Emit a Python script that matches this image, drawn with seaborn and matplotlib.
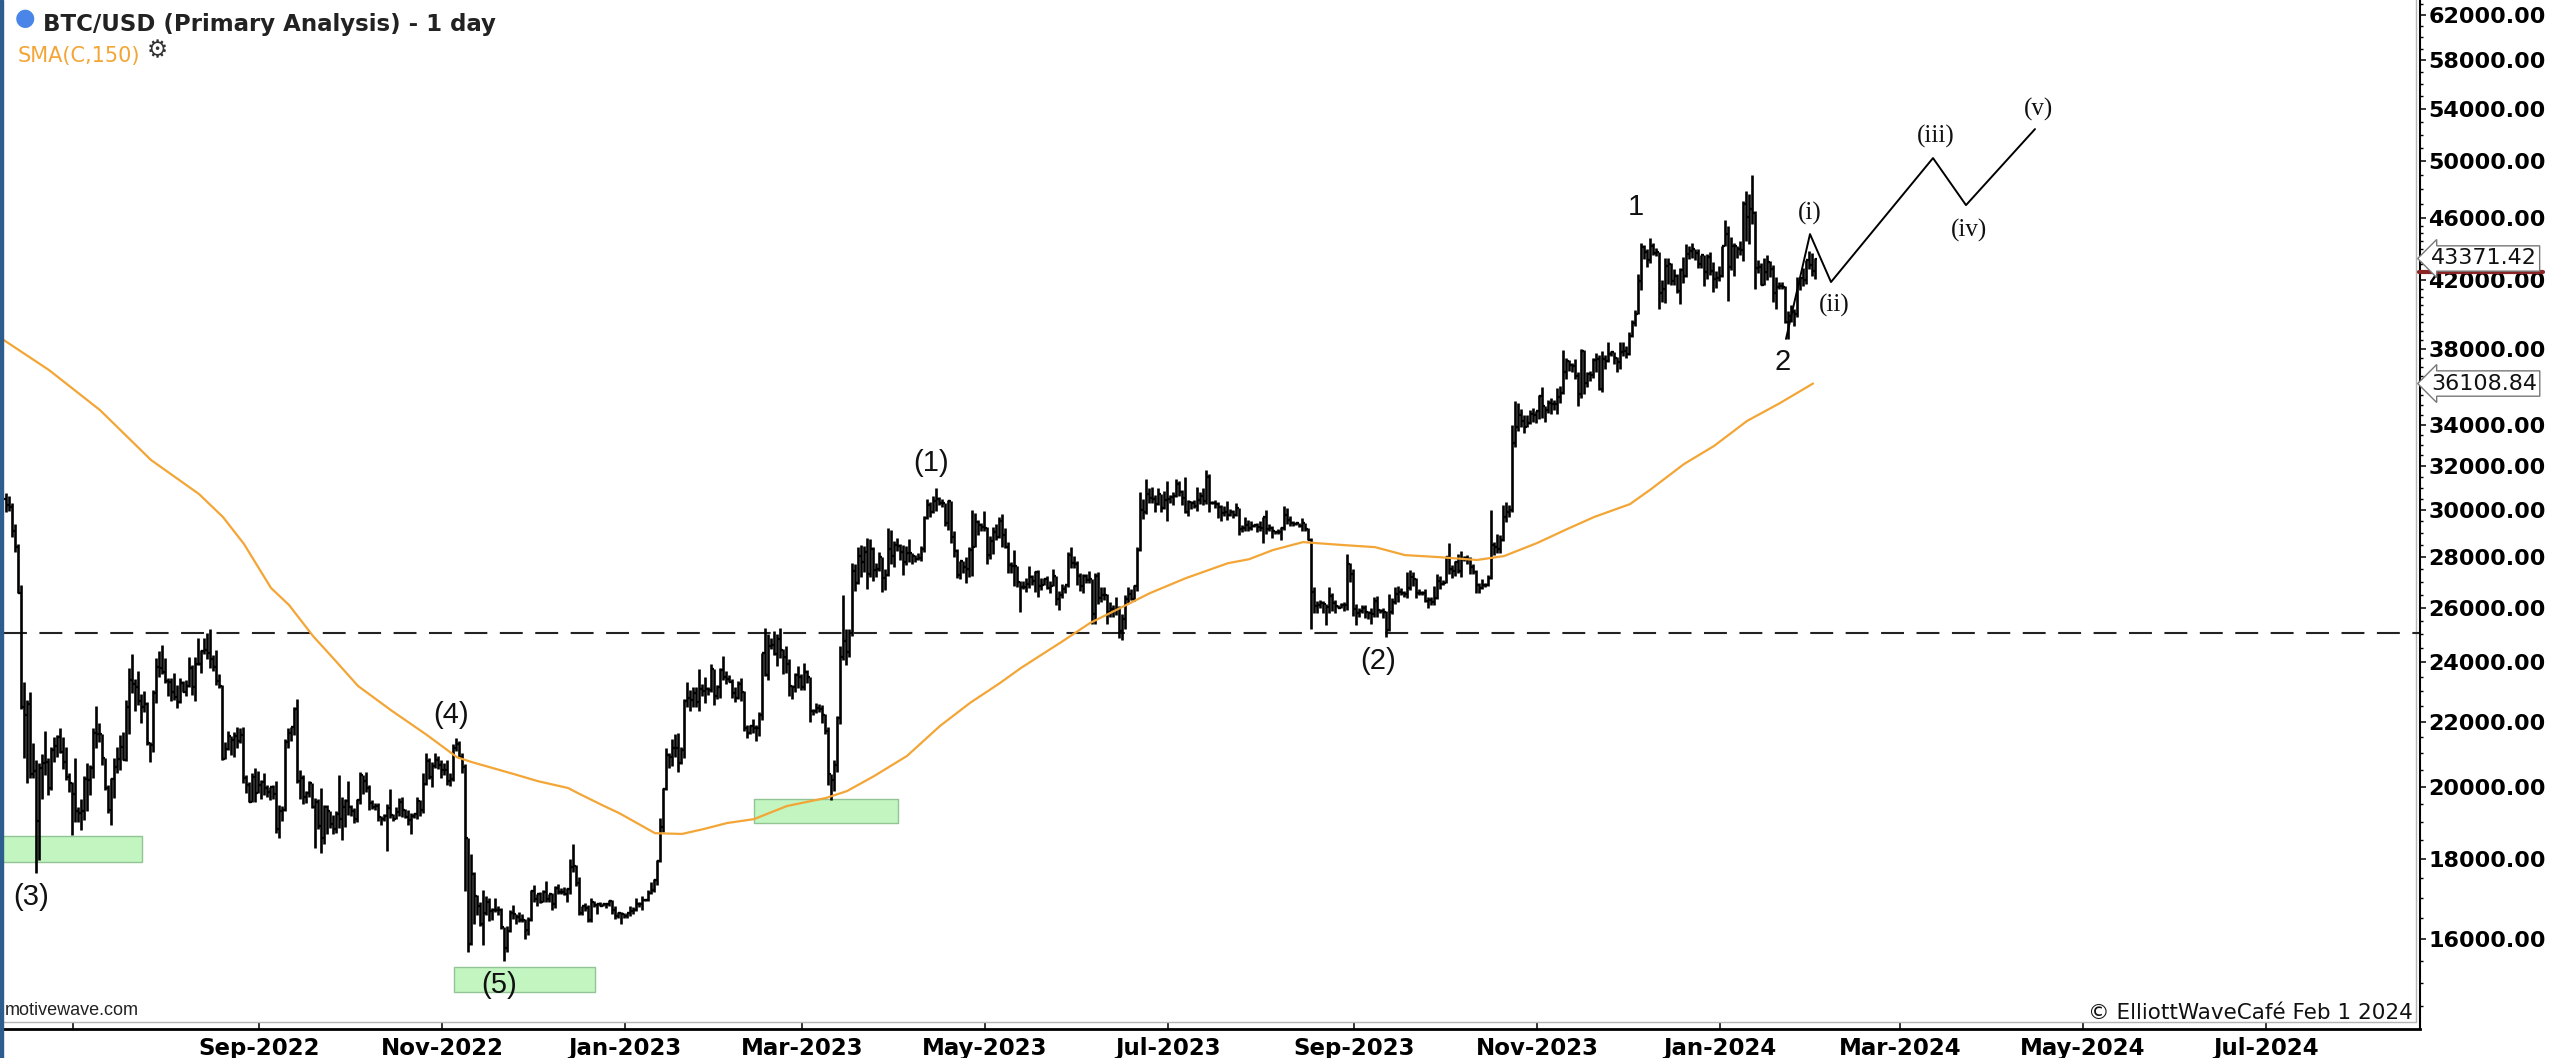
"""BTC/USD daily bars with SMA(150), Elliott wave count and projected path."""
import matplotlib

matplotlib.use("Agg")
import matplotlib.dates as mdates
import matplotlib.pyplot as plt
import matplotlib.ticker as mticker
import numpy as np
import pandas as pd
import seaborn as sns
from matplotlib.patches import Rectangle
from matplotlib.transforms import ScaledTranslation

# daily bars from 2022-06-08 to 2024-02-01, open = previous close
first_day = "2022-06-08"
first_open = 30500

high = [
    # 2022-06 (8th..)
    30750, 30600, 30300, 29400, 28530, 26880, 23300, 22700, 22970, 21330, 20800, 20700, 20980, 21700, 20860, 21200, 21500, 21580, 21800, 21500, 21200, 20400, 20140,
    # 2022-07
    20870, 19400, 19650, 20300, 20700, 20630, 21800, 22500, 21950, 21600, 20860, 20050, 20250, 20850, 21200, 21580, 21680, 22700, 23800, 24280, 23420, 23700, 22900, 23000, 22650, 21350, 23050, 24150, 24400, 24620, 24150,
    # 2022-08
    23450, 23450, 23630, 23200, 23450, 23350, 23380, 24200, 23920, 24200, 24880, 24450, 24880, 25050, 25200, 24250, 24450, 23600, 23200, 21350, 21700, 21540, 21660, 21820, 21800, 21830, 20350, 20140, 20400, 20540, 20450,
    # 2022-09
    20200, 20400, 20050, 20000, 20050, 20160, 19460, 19450, 21450, 21800, 21800, 22480, 22750, 20500, 20330, 19870, 20170, 20100, 19680, 19630, 19950, 19480, 19480, 19300, 19180, 19300, 20340, 19700, 19630, 20160,
    # 2022-10
    19480, 19390, 19650, 20420, 20350, 20430, 20040, 19610, 19520, 19520, 19170, 19200, 19500, 19920, 19220, 19400, 19660, 19690, 19350, 19340, 19250, 19250, 19690, 19600, 20400, 21000, 20860, 20750, 21000, 20920, 20800,
    # 2022-11
    20700, 20800, 20400, 21300, 21480, 21370, 21000, 20660, 18560, 18120, 17650, 17070, 16890, 17180, 17050, 16990, 16750, 16990, 16800, 16750, 16290, 16300, 16700, 16810, 16600, 16650, 16600, 16480, 16520, 17200,
    # 2022-12
    17320, 17100, 17150, 17200, 17420, 17100, 17120, 17300, 17350, 17230, 17260, 17230, 18000, 18380, 17840, 17530, 16800, 16860, 16810, 17000, 16910, 16860, 16880, 16870, 16860, 16940, 16940, 16790, 16650, 16650, 16630,
    # 2023-01
    16630, 16780, 16770, 16990, 16880, 17040, 16970, 17180, 17400, 17480, 17950, 19100, 19950, 21150, 21000, 21440, 21600, 21650, 21190, 22750, 23300, 23050, 23160, 23140, 23780, 23250, 23470, 23160, 23930, 23780, 23220,
    # 2023-02
    23800, 24230, 23690, 23570, 23420, 23150, 23350, 23440, 23000, 21900, 21880, 22080, 21880, 22300, 24340, 25250, 25020, 24870, 25120, 25020, 25250, 24480, 24590, 24130, 23220, 23640, 23860, 23590,
    # 2023-03
    23960, 23740, 23480, 22400, 22600, 22590, 22540, 22260, 21820, 20360, 20800, 22170, 24580, 26500, 25200, 25200, 27750, 27700, 28400, 28500, 28450, 28800, 28750, 28400, 27770, 28200, 28000, 27500, 29200, 29150, 28650,
    # 2023-04
    28800, 28540, 28500, 28450, 28740, 28180, 28100, 28150, 28450, 29750, 30500, 30350, 30600, 31000, 30580, 30500, 30300, 30460, 30380, 29100, 28350, 27850, 27820, 28000, 28400, 30000, 29880, 29570, 29450, 29950,
    # 2023-05
    29250, 28880, 29260, 29370, 29700, 29820, 29200, 28630, 27800, 28300, 27620, 27050, 27030, 27150, 27640, 27260, 27450, 27480, 27150, 27150, 27250, 27050, 27500, 27230, 26630, 26930, 26880, 28200, 28430, 28050, 27840,
    # 2023-06
    27350, 27300, 27320, 27450, 27130, 27350, 27400, 26800, 26780, 26530, 26200, 26100, 26400, 26070, 25750, 26470, 26800, 26700, 26880, 28400, 30800, 30500, 31400, 31000, 31050, 30650, 31000, 30700, 30840, 31280,
    # 2023-07
    30650, 30780, 31380, 31320, 30880, 31500, 30440, 30380, 30440, 31030, 30800, 30980, 31800, 31630, 30400, 30440, 30340, 30230, 30190, 30400, 30050, 29990, 30330, 30100, 29350, 29680, 29560, 29530, 29410, 29450, 29530,
    # 2023-08
    29700, 30000, 29400, 29310, 29100, 29170, 29250, 30180, 30100, 29720, 29540, 29470, 29450, 29650, 29450, 29230, 28780, 26800, 26250, 26280, 26250, 26130, 26800, 26550, 26280, 26100, 26160, 26200, 28130, 27750, 27500,
    # 2023-09
    26120, 25980, 26100, 26100, 25880, 26000, 26400, 26430, 25940, 25970, 25880, 26530, 26380, 26800, 26850, 26770, 26630, 27400, 27470, 27380, 27150, 26730, 26630, 26730, 26420, 26390, 26820, 27300, 27230, 27090,
    # 2023-10
    28050, 28580, 27670, 27830, 28120, 28250, 28030, 28100, 27990, 27730, 27480, 26950, 27100, 26960, 27290, 30000, 28620, 28980, 28900, 30200, 30350, 30200, 34000, 35200, 35100, 34800, 34480, 34470, 34750, 34850, 34700,
    # 2023-11
    35500, 35950, 34950, 35250, 35370, 35250, 35880, 35980, 37950, 37500, 37380, 37220, 37420, 36750, 37980, 37950, 36700, 36800, 37500, 37750, 37650, 37850, 37650, 38400, 37900, 37830, 37550, 38380, 38400, 38150,
    # 2023-12
    38950, 39650, 40200, 42400, 44400, 44270, 44000, 44700, 44350, 44050, 43800, 42050, 43400, 43400, 43100, 42700, 42400, 42750, 43480, 44280, 44200, 44380, 44000, 43950, 43600, 43600, 43680, 43800, 43130, 42600, 42900,
    # 2024-01 and 02-01
    44180, 45900, 45500, 44780, 44350, 44200, 44500, 47200, 47900, 47700, 49050, 46500, 43250, 43080, 43400, 43580, 43200, 42930, 42200, 41880, 41880, 41650, 40150, 40500, 40280, 42200, 42200, 42800, 43300, 43850, 43750,
    43400,
]

low = [
    # 2022-06 (8th..)
    29900, 29950, 28850, 28200, 26550, 22400, 20850, 20100, 20250, 20240, 17620, 17960, 19650, 20350, 19770, 19900, 20750, 20900, 21000, 20520, 20200, 19850, 18630,
    # 2022-07
    19000, 19000, 18780, 19050, 19300, 19770, 20250, 21180, 21350, 20650, 19900, 19250, 18900, 19660, 20400, 20480, 20800, 20770, 21600, 22950, 22350, 22550, 21950, 22300, 21250, 20730, 21040, 22600, 23500, 23600, 23280,
    # 2022-08
    22850, 22660, 22700, 22450, 22600, 22960, 22850, 23150, 22880, 22680, 23900, 23620, 24300, 24100, 23800, 23700, 23200, 23100, 20800, 20830, 21100, 20950, 20900, 21150, 21310, 20100, 19800, 19550, 19550, 19550, 19800,
    # 2022-09
    19650, 19760, 19700, 19600, 19640, 18680, 18540, 19020, 19300, 21150, 21380, 21560, 20100, 19640, 19500, 19520, 19700, 19370, 18270, 18800, 18150, 18390, 18650, 18830, 18650, 18680, 18830, 18500, 18860, 19190,
    # 2022-10
    19160, 18970, 19000, 19510, 19780, 19850, 19320, 19360, 19320, 19030, 18900, 19010, 18190, 19100, 19020, 19070, 19150, 19120, 19100, 18900, 18660, 19110, 19080, 19170, 19240, 20060, 20210, 20000, 20550, 20510, 20250,
    # 2022-11
    20350, 20050, 20030, 20180, 21070, 20860, 20400, 17170, 15700, 15850, 16360, 16570, 16300, 15860, 16560, 16430, 16460, 16640, 16580, 16230, 15480, 15700, 16170, 16480, 16350, 16400, 16400, 16000, 16100, 16420,
    # 2022-12
    16880, 16790, 16870, 16880, 16880, 16900, 16690, 16750, 17090, 17090, 17070, 16880, 17080, 17660, 17280, 16580, 16580, 16660, 16400, 16400, 16760, 16600, 16780, 16780, 16740, 16790, 16600, 16470, 16500, 16350, 16500,
    # 2023-01
    16500, 16550, 16600, 16660, 16760, 16680, 16910, 16910, 17100, 17150, 17320, 17900, 18720, 19900, 20550, 20620, 20900, 20420, 20670, 20870, 22480, 22350, 22480, 22480, 22350, 22850, 22600, 22890, 22980, 22540, 22740,
    # 2023-02
    22780, 23400, 23240, 23350, 22780, 22650, 22740, 22680, 21700, 21480, 21600, 21620, 21390, 21550, 22060, 23530, 23390, 24480, 24250, 23880, 24150, 23600, 23620, 22850, 22750, 22960, 23110, 23030,
    # 2023-03
    23030, 23280, 22000, 22200, 22270, 22320, 21950, 21590, 20060, 19600, 19870, 20420, 21920, 24080, 23900, 24200, 24930, 26650, 26900, 27200, 27400, 26700, 27200, 27030, 27200, 27420, 26620, 26680, 27230, 27730, 27580,
    # 2023-04
    28250, 27870, 27270, 27680, 27800, 27720, 27790, 27870, 27820, 28200, 29600, 29700, 29880, 29950, 30230, 30150, 29300, 29150, 28600, 28010, 27150, 27130, 27350, 26970, 27200, 27250, 28400, 28900, 29100, 29100,
    # 2023-05
    27700, 27900, 28130, 28700, 28800, 28400, 28380, 27350, 27350, 26850, 26780, 25850, 26700, 26600, 26760, 26860, 26600, 26420, 26680, 26860, 26700, 26550, 26850, 26100, 25900, 26350, 26560, 26810, 27570, 27570, 26860,
    # 2023-06
    26630, 26550, 26950, 26960, 25400, 25400, 26130, 26220, 26300, 25400, 25650, 25650, 25730, 24850, 24800, 25200, 26180, 26290, 26260, 26650, 28270, 29600, 29820, 30290, 30310, 29930, 30220, 29900, 30050, 29500,
    # 2023-07
    30330, 30200, 30590, 30640, 30200, 29880, 29720, 30040, 30080, 29950, 30270, 30200, 30250, 29900, 30250, 30080, 29670, 29520, 29750, 29580, 29730, 29640, 29720, 28900, 29050, 29100, 29100, 29120, 29250, 29050, 29100,
    # 2023-08
    28600, 28950, 29100, 28800, 28950, 28980, 28700, 29120, 29400, 29320, 29300, 29360, 29250, 29070, 29070, 28700, 25200, 25800, 25780, 26000, 25800, 25350, 25800, 25860, 25790, 25980, 25990, 25880, 25920, 27000, 25700,
    # 2023-09
    25360, 25650, 25800, 25600, 25570, 25380, 25630, 25650, 25800, 25600, 24900, 25140, 25770, 26130, 26200, 26480, 26410, 26380, 26670, 26850, 26380, 26480, 26500, 26200, 26000, 26100, 26110, 26340, 26720, 26870,
    # 2023-10
    26960, 27330, 27170, 27220, 27370, 27200, 27840, 27700, 27300, 27330, 26550, 26560, 26700, 26800, 26840, 27120, 28070, 28170, 28180, 28650, 29470, 29680, 29900, 32900, 33700, 33900, 33570, 33880, 34050, 34120, 34090,
    # 2023-11
    34300, 34350, 34120, 34600, 34550, 34750, 34550, 35100, 35550, 36350, 36780, 36740, 36350, 34950, 35360, 35580, 35900, 36220, 36400, 36720, 35750, 35650, 36900, 37250, 37600, 37160, 36750, 36900, 37600, 37500,
    # 2023-12
    37640, 38650, 39300, 39980, 41400, 43350, 42850, 43100, 43600, 43550, 40250, 40680, 40650, 41800, 41700, 41700, 41250, 40550, 41820, 42200, 43320, 43400, 43300, 42800, 42750, 41650, 42100, 42330, 41300, 41550, 41970,
    # 2024-01 and 02-01
    42200, 44150, 40750, 42650, 42300, 43400, 43600, 43200, 44500, 44300, 45600, 41500, 42450, 41720, 41720, 42050, 42200, 40680, 40280, 41500, 41500, 39450, 38550, 39500, 39280, 39800, 41400, 41650, 41800, 42700, 42300,
    42100,
]

close = [
    # 2022-06 (8th..)
    30200, 30110, 29080, 28420, 26580, 22490, 22200, 22580, 20380, 20470, 19020, 20550, 20700, 20720, 19970, 21090, 21230, 21500, 21040, 20730, 20280, 20100, 19780,
    # 2022-07
    19300, 19240, 19300, 20230, 20190, 20550, 21630, 21590, 21590, 20860, 19970, 19330, 20210, 20580, 20830, 21190, 20790, 22480, 23390, 23240, 23160, 22680, 22470, 22580, 21310, 21250, 22930, 23840, 23800, 23650, 23340,
    # 2022-08
    23310, 22980, 22820, 22630, 23290, 22960, 23180, 23810, 23160, 23950, 23950, 24400, 24440, 24310, 24100, 23850, 23340, 23190, 20830, 21140, 21530, 21400, 21530, 21370, 21560, 20250, 20040, 19560, 20280, 19810, 20050,
    # 2022-09
    20130, 19950, 19830, 19990, 19790, 18790, 19290, 19320, 21360, 21650, 21830, 22400, 20170, 20240, 19700, 19800, 20110, 19420, 19540, 18890, 18550, 19400, 19300, 18930, 18800, 19220, 19080, 19410, 19590, 19420,
    # 2022-10
    19310, 19060, 19620, 20340, 20160, 19960, 19530, 19420, 19440, 19130, 19060, 19160, 19380, 19190, 19070, 19260, 19550, 19330, 19140, 19050, 19170, 19210, 19570, 19330, 20090, 20770, 20290, 20600, 20810, 20630, 20490,
    # 2022-11
    20480, 20160, 20210, 21150, 21300, 20900, 20590, 18550, 15880, 17590, 17040, 16800, 16350, 16620, 16900, 16660, 16690, 16700, 16700, 16280, 15780, 16190, 16610, 16600, 16520, 16460, 16440, 16220, 16440, 17170,
    # 2022-12
    16970, 17090, 16900, 17130, 16970, 17090, 16840, 17230, 17130, 17130, 17090, 17210, 17780, 17810, 17360, 16630, 16780, 16740, 16440, 16900, 16820, 16830, 16780, 16840, 16830, 16920, 16700, 16550, 16630, 16600, 16540,
    # 2023-01
    16620, 16670, 16680, 16850, 16830, 16950, 16940, 17120, 17180, 17440, 17940, 18850, 19930, 20950, 20880, 21170, 21160, 20690, 21090, 22680, 22780, 22720, 22930, 22630, 23060, 23020, 23080, 23030, 23750, 22840, 23130,
    # 2023-02
    23730, 23490, 23430, 23330, 22930, 22760, 23260, 22960, 21800, 21630, 21860, 21790, 21780, 22200, 24330, 23540, 24570, 24630, 24300, 24840, 24440, 24190, 23950, 23190, 23160, 23550, 23490, 23150,
    # 2023-03
    23650, 23470, 22360, 22350, 22430, 22410, 22200, 21700, 20360, 20190, 20630, 22130, 24200, 24750, 24380, 25050, 27420, 26960, 28050, 27780, 28190, 27300, 28350, 27480, 27500, 27990, 27140, 27270, 28350, 28030, 28480,
    # 2023-04
    28470, 28200, 27800, 28170, 28170, 28030, 27920, 27950, 28330, 29650, 30240, 29890, 30400, 30480, 30320, 30320, 29430, 30390, 28820, 28250, 27270, 27820, 27600, 27510, 28310, 28420, 29470, 29340, 29250, 29230,
    # 2023-05
    28080, 28680, 29030, 28850, 29540, 28900, 28430, 27690, 27630, 27620, 26990, 26800, 26780, 26930, 27190, 27040, 27400, 26830, 26890, 27120, 26750, 26850, 27230, 26330, 26480, 26720, 26870, 28080, 27750, 27700, 27220,
    # 2023-06
    26820, 27250, 27070, 27120, 25760, 27240, 26350, 26500, 26480, 25850, 25940, 25900, 25930, 25130, 25580, 26340, 26510, 26340, 26840, 28310, 30010, 29900, 30690, 30550, 30470, 30270, 30690, 30080, 30450, 30470,
    # 2023-07
    30590, 30620, 31160, 30780, 30510, 29890, 30350, 30290, 30170, 30420, 30620, 30390, 31480, 30330, 30300, 30250, 30150, 29860, 29920, 29800, 29910, 29800, 30090, 29180, 29230, 29350, 29220, 29320, 29360, 29280, 29230,
    # 2023-08
    29700, 29180, 29200, 29080, 29050, 29060, 29200, 29770, 29580, 29440, 29400, 29420, 29300, 29420, 29170, 28710, 26620, 26050, 26100, 26190, 26120, 26040, 26430, 26160, 26050, 26000, 26090, 26100, 27720, 27300, 25930,
    # 2023-09
    25800, 25870, 25970, 25820, 25780, 25750, 26240, 25910, 25890, 25830, 25160, 25840, 26230, 26530, 26610, 26570, 26530, 26760, 27210, 27130, 26570, 26580, 26580, 26250, 26300, 26220, 26360, 27030, 26900, 26970,
    # 2023-10
    27990, 27500, 27430, 27790, 27420, 27930, 27960, 27930, 27600, 27390, 26870, 26760, 26860, 26860, 27160, 28520, 28420, 28330, 28720, 29690, 29920, 29990, 33080, 33900, 34500, 34160, 33900, 34090, 34530, 34500, 34670,
    # 2023-11
    35440, 34940, 34730, 35080, 35050, 35040, 35420, 35620, 36700, 37310, 37130, 37060, 36490, 35550, 37880, 36160, 36600, 36580, 37360, 37450, 35800, 37440, 37300, 37720, 37800, 37480, 37250, 37830, 37860, 37720,
    # 2023-12
    38690, 39460, 39970, 41980, 44080, 43770, 43290, 44170, 43720, 43790, 41240, 41450, 42890, 43020, 41940, 42260, 41360, 42650, 42270, 43660, 43870, 43980, 43720, 43010, 43580, 42520, 43440, 42580, 42070, 42140, 42280,
    # 2024-01 and 02-01
    44180, 44950, 42850, 44180, 44160, 43970, 43930, 46970, 46100, 46650, 46340, 42780, 42840, 41730, 42500, 43150, 42740, 41260, 41620, 41660, 41580, 39510, 39850, 40080, 39960, 41800, 42120, 42030, 43300, 42950, 42580,
    43371,
]

# SMA(C,150)
sma_dates = [
    "2022-06-06", "2022-06-23", "2022-07-10", "2022-07-27", "2022-08-12", "2022-08-20", "2022-08-27",
    "2022-09-05", "2022-09-11", "2022-09-19", "2022-09-26", "2022-10-04", "2022-10-15", "2022-10-27",
    "2022-11-06", "2022-11-11", "2022-11-18", "2022-11-25", "2022-12-03", "2022-12-13", "2022-12-17",
    "2022-12-25", "2022-12-30", "2023-01-05", "2023-01-11", "2023-01-20", "2023-01-27", "2023-02-04",
    "2023-02-13", "2023-02-24", "2023-03-09", "2023-03-16", "2023-03-25", "2023-04-05", "2023-04-16",
    "2023-04-26", "2023-05-06", "2023-05-13", "2023-05-27", "2023-06-05", "2023-06-15", "2023-06-25",
    "2023-07-07", "2023-07-21", "2023-07-28", "2023-08-05", "2023-08-15", "2023-08-28", "2023-09-08",
    "2023-09-18", "2023-09-29", "2023-10-12", "2023-10-21", "2023-11-01", "2023-11-11", "2023-11-20",
    "2023-12-02", "2023-12-09", "2023-12-20", "2023-12-30", "2024-01-10", "2024-01-21", "2024-02-01",
]
sma_values = [
    38700, 36830, 34730, 32280, 30710, 29690, 28540,
    26760, 26100, 24940, 24110, 23180, 22370, 21570,
    20880, 20730, 20550, 20370, 20160, 19960, 19780,
    19440, 19240, 18960, 18680, 18660, 18790, 18960,
    19070, 19440, 19670, 19870, 20310, 20920, 21860,
    22610, 23280, 23800, 24760, 25420, 25980, 26560,
    27150, 27750, 27910, 28290, 28620, 28500, 28410,
    28080, 28000, 27880, 28040, 28580, 29170, 29690,
    30260, 30930, 32090, 32950, 34180, 35090, 36108.84,
]

# projected wave path: 2 -> (i) -> (ii) -> (iii) -> (iv) -> (v)
path_dates = ["2024-01-23", "2024-01-31", "2024-02-07", "2024-03-12", "2024-03-23", "2024-04-15"]
path_prices = [38550, 44950, 41900, 50250, 46900, 52430]

support_level = 25050

zone_start = ["2022-06-01", "2022-11-05", "2023-02-13"]
zone_end = ["2022-07-24", "2022-12-22", "2023-04-02"]
zone_low = [17900, 14800, 18965]
zone_high = [18600, 15350, 19640]

wave_labels = ["(3)", "(4)", "(5)", "(1)", "(2)", "1", "2"]
wave_dates = ["2022-06-17", "2022-11-04", "2022-11-20", "2023-04-13", "2023-09-09", "2023-12-04", "2024-01-22"]
wave_prices = [17010, 22210, 14950, 32130, 24050, 46770, 37240]

minor_labels = ["(i)", "(ii)", "(iii)", "(iv)", "(v)"]
minor_dates = ["2024-01-31", "2024-02-08", "2024-03-13", "2024-03-24", "2024-04-16"]
minor_prices = [46360, 40500, 51880, 45220, 53990]

last_price = 43371.42
last_sma = 36108.84

y_ticks = [16000, 18000, 20000, 22000, 24000, 26000, 28000, 30000, 32000, 34000,
           38000, 42000, 46000, 50000, 54000, 58000, 62000]
x_ticks = pd.date_range("2022-07-01", "2024-07-01", freq="2MS")


def dnum(values):
    return mdates.date2num(pd.to_datetime(values))


sns.set_style("white")
plt.rcParams["font.family"] = ["DejaVu Sans"]

W, H = 2551, 1058
fig = plt.figure(figsize=(W / 100, H / 100), dpi=100)
ax = fig.add_axes([4 / W, 29 / H, 2416 / W, 1029 / H])
ax.set_yscale("log")

# OHLC bars
dates = pd.date_range(first_day, periods=len(close), freq="D")
x = mdates.date2num(dates) + 0.5
c = np.array(close, float)
o = np.r_[first_open, c[:-1]]
hi = np.maximum.reduce([np.array(high, float), o, c])
lo = np.minimum.reduce([np.array(low, float), o, c])
ax.vlines(x, lo, hi, color="black", lw=1.9, zorder=3)
ax.hlines(o, x - 0.95, x, color="black", lw=1.6, zorder=3)
ax.hlines(c, x, x + 0.95, color="black", lw=1.6, zorder=3)

# green zones
for s, e, l, h in zip(zone_start, zone_end, zone_low, zone_high):
    ax.fill_between(dnum([s, e]), l, h, facecolor="#c2f5c0", edgecolor="#93c493",
                    lw=1.0, zorder=2)

ax.axhline(support_level, color="#222222", lw=1.5, dashes=(11, 6), zorder=2.5)

sns.lineplot(x=dnum(sma_dates), y=sma_values, ax=ax, color="#f3a536", lw=1.6,
             estimator=None, sort=False, zorder=4)
sns.lineplot(x=dnum(path_dates), y=path_prices, ax=ax, color="black", lw=1.4,
             estimator=None, sort=False, zorder=4)

for lab, d, p in zip(wave_labels, wave_dates, wave_prices):
    ax.text(dnum([d])[0], p, lab, ha="center", va="center", fontsize=21,
            family="Liberation Sans", color="#111111", zorder=5)
for lab, d, p in zip(minor_labels, minor_dates, minor_prices):
    ax.text(dnum([d])[0], p, lab, ha="center", va="center", fontsize=18,
            family="Liberation Serif", color="#111111", zorder=5)

# axes
ax.set_xlim(mdates.date2num(pd.Timestamp("2022-06-08")),
            mdates.date2num(pd.Timestamp("2024-08-21 08:00")))
ax.set_ylim(14020, 63350)
ax.set_xticks(mdates.date2num(x_ticks),
              [""] + [d.strftime("%b-%Y") for d in x_ticks[1:]], fontweight="bold")
ax.yaxis.tick_right()
ax.set_yticks(y_ticks, [f"{v:.2f}" for v in y_ticks], fontweight="bold")
minor = [v for v in list(range(14500, 46000, 500)) + list(range(46000, 63001, 1000))
         if v not in y_ticks]
ax.set_yticks(minor, minor=True)
ax.yaxis.set_minor_formatter(mticker.NullFormatter())
ax.tick_params(axis="x", direction="in", length=5, width=1.1, pad=6,
               labelsize=16.5, colors="black", bottom=True)
ax.tick_params(axis="y", which="major", direction="out", length=4, width=1.1,
               pad=2, labelsize=16, colors="black", right=True, left=False)
ax.tick_params(axis="y", which="minor", direction="out", length=2.5, width=1.0,
               right=True, left=False, colors="black")
ax.set_xlabel("")
ax.set_ylabel("")
for side in ["top", "left"]:
    ax.spines[side].set_visible(False)
ax.spines["bottom"].set_linewidth(2.0)
ax.spines["bottom"].set_color("black")
ax.spines["right"].set_linewidth(1.5)
ax.spines["right"].set_color("black")

# thin grey inner frame
ax.plot([0, 0.99834], [0.0068, 0.0068], transform=ax.transAxes, color="#b5b5b5",
        lw=1.0, clip_on=False, zorder=1)
ax.plot([0.99834, 0.99834], [0.0068, 1], transform=ax.transAxes, color="#b5b5b5",
        lw=1.0, clip_on=False, zorder=1)

# price markers on the right axis
trans = ax.get_yaxis_transform()
for val in [last_price, last_sma]:
    ax.text(1.0046, val, f"{val:.2f}", transform=trans, ha="left", va="center",
            fontsize=16, color="#111111", clip_on=False, zorder=6,
            bbox=dict(boxstyle="larrow,pad=0.12", fc="white", ec="#777777", lw=1.0))
red_trans = trans + ScaledTranslation(0, -14 / 100, fig.dpi_scale_trans)
ax.plot([0.9995, 1.0509], [last_price, last_price], transform=red_trans,
        color="#8b2525", lw=3.0, clip_on=False, zorder=5)

# header and footer texts
fig.add_artist(Rectangle((0, 0), 3 / W, 1, transform=fig.transFigure,
                         color="#2d5c8e", zorder=10))
fig.text(25 / W, 1 - 18 / H, "\u25cf", color="#4a86e8", fontsize=17,
         ha="center", va="center")
fig.text(43 / W, 1 - 31 / H, "BTC/USD (Primary Analysis) - 1 day", fontsize=16.5,
         fontweight="bold", color="#222222", va="baseline")
fig.text(18 / W, 1 - 62 / H, "SMA(C,150)", fontsize=15, color="#f3a536",
         va="baseline")
fig.text(157 / W, 1 - 50 / H, "\u2699", fontsize=17, color="#333333",
         ha="center", va="center")
fig.text(5 / W, 1 - 1015 / H, "motivewave.com", fontsize=13,
         family="Liberation Sans", color="#222222", va="baseline")
fig.text(2413 / W, 1 - 1019 / H, "\u00a9 ElliottWaveCaf\u00e9 Feb 1 2024",
         fontsize=15.5, color="#111111", ha="right", va="baseline")

fig.savefig("out.png", dpi=100)
